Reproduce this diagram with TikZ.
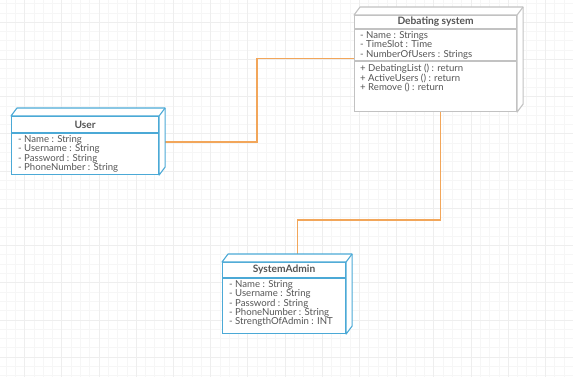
\documentclass[tikz,border=0pt]{standalone}
\usepackage{fontspec}
\setmainfont{Lato}
\usetikzlibrary{calc}
\usetikzlibrary{positioning}
\usetikzlibrary{backgrounds}
\definecolor{umlblue}{HTML}{4BA9D6}
\definecolor{umlgray}{HTML}{C2C2C2}
\definecolor{umlorange}{HTML}{F2A65A}
\definecolor{umltext}{HTML}{555555}
\definecolor{gridminor}{HTML}{F6F6F6}
\definecolor{gridmajor}{HTML}{EEEEEE}
\newcommand{\tightlines}{\lineskiplimit=-8pt\relax\lineskip=0pt\relax}
\tikzstyle{classbox}=[draw, line width=1.1pt, fill=white, inner sep=0pt, anchor=north west]
\tikzstyle{classtitle}=[font=\fontsize{10.2}{11}\selectfont\bfseries, text=umltext, inner sep=0pt]
\tikzstyle{members}=[font=\fontsize{9.6}{9.4}\selectfont\tightlines, text=umltext, align=left, inner sep=0pt, anchor=north west]
\tikzstyle{link}=[draw=umlorange, line width=1.3pt]
\newcommand{\drawdepth}[2]{
  % top and right face of a class box
  \draw[#2, line width=1.1pt, fill=white, line join=round] (#1.north west) -- ++(6,-8) -- ($(#1.north east)+(6,-8)$) -- ($(#1.south east)+(6,-8)$) -- (#1.south east) -- (#1.north east) -- cycle;
  \draw[#2, line width=1.1pt] (#1.north east) -- ++(6,-8);
}
\newcommand{\drawsep}[3]{
  \draw[#2, line width=1.1pt] ($(#1.north west)+(0,#3)$) -- ($(#1.north east)+(0,#3)$);
}

\begin{document}
\begin{tikzpicture}[x=1pt,y=-1pt]
  \useasboundingbox (0,0) rectangle (573,377);

  % classes
  \node[classbox, draw=umlgray, minimum width=162, minimum height=96] (debating) at (354,15) {};
  \drawdepth{debating}{umlgray}
  \node[classtitle] (debating-title) at ($(debating.north)+(0,7)$) {Debating system};
  \drawsep{debating}{umlgray}{14}
  \node[members] (debating-attr) at ($(debating.north west)+(6,16)$) {- Name : Strings\\- TimeSlot : Time\\- NumberOfUsers : Strings};
  \drawsep{debating}{umlgray}{46}
  \node[members] (debating-ops) at ($(debating.north west)+(6,49)$) {+ DebatingList () : return\\+ ActiveUsers () : return\\+ Remove () : return};

  \node[classbox, draw=umlblue, minimum width=147, minimum height=58] (user) at (11,116) {};
  \drawdepth{user}{umlblue}
  \node[classtitle] (user-title) at ($(user.north)+(0,9)$) {User};
  \drawsep{user}{umlblue}{17}
  \node[members] (user-attr) at ($(user.north west)+(7,19)$) {- Name : String\\- Username : String\\- Password : String\\- PhoneNumber : String};

  \node[classbox, draw=umlblue, minimum width=123, minimum height=71] (admin) at (222,262) {};
  \drawdepth{admin}{umlblue}
  \node[classtitle] (admin-title) at ($(admin.north)+(0,8)$) {SystemAdmin};
  \drawsep{admin}{umlblue}{16}
  \node[members] (admin-attr) at ($(admin.north west)+(7,18)$) {- Name : String\\- Username : String\\- Password : String\\- PhoneNumber : String\\- StrengthOfAdmin : INT};

  \coordinate (bendA) at (257,100);
  \coordinate (bendB) at (297,220);

  \begin{scope}[on background layer]
    % grid
    \foreach \x in {5.8,15.1,...,573} \draw[gridminor, line width=0.4pt] (\x,0) -- (\x,377);
    \foreach \y in {3.5,12.8,...,377} \draw[gridminor, line width=0.4pt] (0,\y) -- (573,\y);
    \foreach \x in {24.4,61.6,...,573} \draw[gridmajor, line width=0.4pt] (\x,0) -- (\x,377);
    \foreach \y in {22.1,59.3,...,377} \draw[gridmajor, line width=0.4pt] (0,\y) -- (573,\y);
    % associations
    \draw[link] ([yshift=3.5pt]user.east) -| (bendA) |- ([yshift=5pt]debating.west);
    \draw[link] ([xshift=5pt]debating.south) |- (bendB) -| ([xshift=13.5pt]admin.north);
  \end{scope}
\end{tikzpicture}
\end{document}
